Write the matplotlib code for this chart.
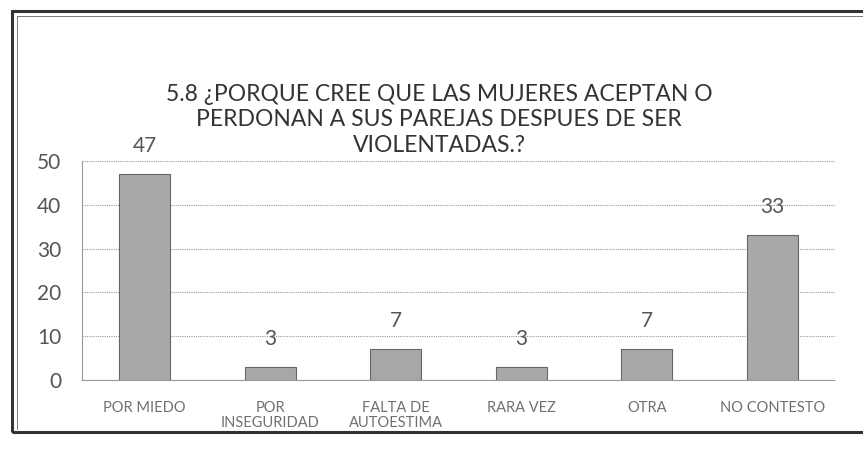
import matplotlib
matplotlib.use("Agg")
import matplotlib.pyplot as plt
from matplotlib.patches import Rectangle
from matplotlib.lines import Line2D

# datos
categorias = ["POR MIEDO", "POR\nINSEGURIDAD", "FALTA DE\nAUTOESTIMA",
              "RARA VEZ", "OTRA", "NO CONTESTO"]
valores = [47, 3, 7, 3, 7, 33]
yticks = [0, 10, 20, 30, 40, 50]
titulo = ("5.8 ¿PORQUE CREE QUE LAS MUJERES ACEPTAN O\n"
          "PERDONAN A SUS PAREJAS DESPUES DE SER\n"
          "VIOLENTADAS.?")

plt.rcParams["font.family"] = ["Lato", "DejaVu Sans"]

W, H = 863, 454
fig = plt.figure(figsize=(W / 100, H / 100), dpi=100)

# marco: linea gruesa exterior + linea fina interior arriba/izquierda
fig.patches.append(Rectangle((12 / W, (H - 432) / H), 900 / W, 421 / H,
                             transform=fig.transFigure, fill=False,
                             edgecolor="#333333", linewidth=2.2))
fig.add_artist(Line2D([17 / W, 17 / W], [(H - 16) / H, (H - 429) / H],
                      transform=fig.transFigure, color="#777777", lw=0.7))
fig.add_artist(Line2D([17 / W, 1], [(H - 16) / H, (H - 16) / H],
                      transform=fig.transFigure, color="#777777", lw=0.7))

ax = fig.add_axes([82 / W, (H - 380) / H, (835 - 82) / W, (380 - 161) / H])
x = range(len(categorias))
barras = ax.bar(x, valores, width=0.41, color="#a8a8a8",
                edgecolor="#666666", linewidth=0.8, zorder=3)
for b, v in zip(barras, valores):
    ax.annotate(str(v), (b.get_x() + b.get_width() / 2, v),
                xytext=(0, 13), textcoords="offset points",
                ha="center", va="bottom", fontsize=15, color="#555555",
                zorder=4)

ax.set_xlim(-0.5, len(categorias) - 0.5)
ax.set_ylim(0, 50)
ax.set_yticks(yticks)
ax.set_yticklabels([str(t) for t in yticks], fontsize=15, color="#555555")
ax.set_xticks(list(x))
ax.set_xticklabels(categorias, fontsize=10.5, color="#707070",
                   linespacing=1.1)
ax.tick_params(axis="y", length=0, pad=15)
ax.tick_params(axis="x", length=0, pad=15)
ax.yaxis.grid(True, linestyle=(0, (1, 1)), color="#999999", linewidth=0.8)
for s in ["top", "right"]:
    ax.spines[s].set_visible(False)
ax.spines["left"].set_linestyle((0, (1, 1)))
ax.spines["left"].set_color("#999999")
ax.spines["bottom"].set_linestyle((0, (1, 1)))
ax.spines["bottom"].set_color("#999999")

fig.text(439 / W, (H - 84) / H, titulo, ha="center", va="top",
         fontsize=16.5, color="#333333", linespacing=1.25)

fig.savefig("out.png", dpi=100)
